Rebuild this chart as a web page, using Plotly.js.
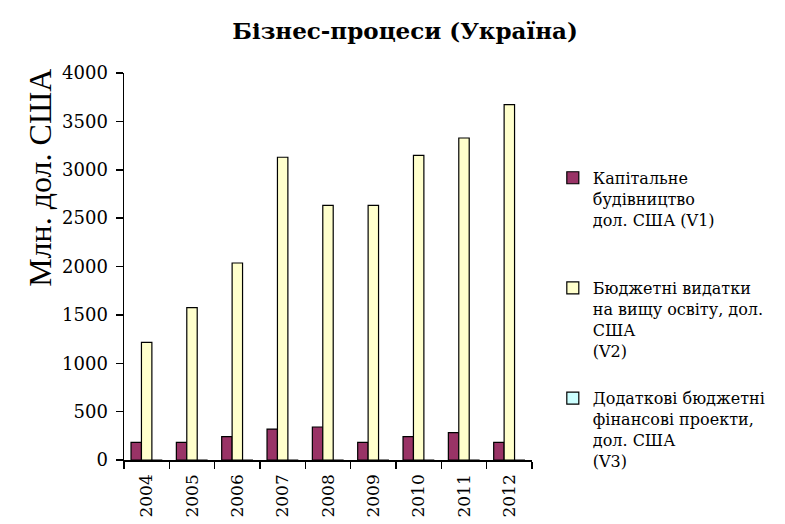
<!DOCTYPE html>
<html><head><meta charset="utf-8">
<script src="https://cdn.plot.ly/plotly-3.0.1.min.js"></script>
<style>html,body{margin:0;padding:0;background:#fff}#c{width:785px;height:524px}</style>
</head><body><div id="c"></div>
<script>
var years = ['2004','2005','2006','2007','2008','2009','2010','2011','2012'];
var v1 = [183, 183, 241, 320, 341, 183, 241, 282, 183];
var v2 = [1216, 1574, 2036, 3129, 2632, 2632, 3149, 3328, 3673];
var v3 = [0, 0, 0, 0, 0, 0, 0, 0, 0];
var names = ['Капітальне<br>будівництво<br>дол. США (V1)<br> ',
             'Бюджетні видатки<br>на вищу освіту, дол.<br>США<br>(V2)',
             'Додаткові бюджетні<br>фінансові проекти,<br>дол. США<br>(V3)'];
var yTitle = 'Млн. дол. США';
var chartTitle = 'Бізнес-процеси (Україна)';
var colors = ['#993366', '#FFFFCC', '#CCFFFF'];
var serif = 'DejaVu Serif';
var bigSerif = 'Liberation Serif';
var series = [v1, v2, v3];
var data = series.map(function(s, i){
  return {type:'bar', x:years, y:s, name:names[i], legendgroup:'g'+i,
    marker:{color:colors[i], line:{color:'#000', width:1.2}}};
});
var layout = {
  width:785, height:524,
  margin:{l:124, r:253, t:73, b:64, autoexpand:false},
  paper_bgcolor:'#fff', plot_bgcolor:'#fff',
  barmode:'group', bargap:0.31, bargroupgap:0,
  font:{family:serif, color:'#000', size:17},
  title:{text:'<b>'+chartTitle+'</b>', font:{family:serif, size:23, color:'#000'},
         x:0.516, xanchor:'center', y:0.941, yanchor:'middle', xref:'container', yref:'container'},
  xaxis:{type:'category', showline:true, linecolor:'#000', linewidth:1.5,
         ticks:'outside', tickson:'boundaries', ticklen:7, tickcolor:'#000', tickwidth:1.5,
         tickangle:-90, tickfont:{size:17, family:serif, color:'#000'}, showgrid:false, zeroline:false, ticklabelstandoff:6},
  yaxis:{range:[0,4000], dtick:500, showline:true, linecolor:'#000', linewidth:1.5,
         ticks:'outside', ticklen:7, tickcolor:'#000', tickwidth:1.5, showgrid:false, zeroline:false,
         tickfont:{size:18, family:serif, color:'#000'}, ticklabelstandoff:4},
  annotations:[{text:yTitle, textangle:-90, xref:'paper', yref:'paper',
         x:-0.206, y:0.729, xanchor:'center', yanchor:'middle', showarrow:false,
         font:{size:32, family:bigSerif, color:'#000'}}],
  legend:{x:1.051, xanchor:'left', y:0.773, yanchor:'top', valign:'top',
          font:{size:16, family:serif, color:'#000'}, traceorder:'grouped',
          tracegroupgap:24, itemwidth:30, bgcolor:'rgba(0,0,0,0)'},
  showlegend:true
};
Plotly.newPlot('c', data, layout, {displayModeBar:false, staticPlot:true});
</script></body></html>
